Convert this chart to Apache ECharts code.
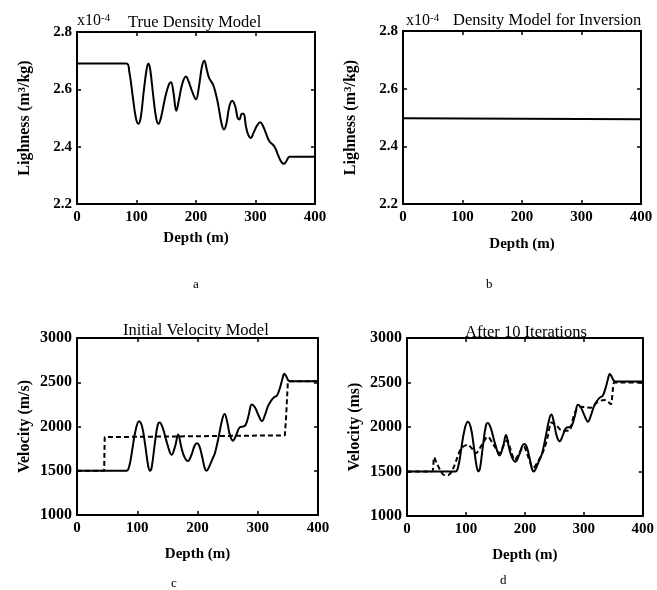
<!DOCTYPE html>
<html>
<head>
<meta charset="utf-8">
<script src="https://cdn.jsdelivr.net/npm/echarts@6/dist/echarts.min.js"></script>
<style>
html,body{margin:0;padding:0;background:#fff;}
#main{width:657px;height:590px;}
</style>
</head>
<body>
<div id="main"></div>
<script>
// a: true density model
var densityDepth = [0, 83, 88, 94, 99, 103, 107, 112, 117, 120, 123, 128, 133, 137, 141, 148, 154, 158, 162, 167, 171, 177, 183, 188, 194, 200, 205, 210, 214, 218, 222, 229, 236, 243, 247, 251, 256, 261, 266, 270, 273, 277, 280, 284, 288, 292, 297, 303, 308, 312, 317, 323, 332, 338, 344, 348, 352, 357, 362, 400];
var densityTrue  = [2.69, 2.69, 2.66, 2.57, 2.50, 2.48, 2.50, 2.59, 2.67, 2.69, 2.67, 2.58, 2.50, 2.48, 2.50, 2.57, 2.615, 2.625, 2.59, 2.525, 2.56, 2.62, 2.645, 2.625, 2.59, 2.565, 2.61, 2.68, 2.70, 2.67, 2.64, 2.615, 2.56, 2.48, 2.46, 2.48, 2.54, 2.56, 2.54, 2.50, 2.495, 2.515, 2.515, 2.47, 2.44, 2.43, 2.45, 2.475, 2.485, 2.475, 2.45, 2.42, 2.40, 2.37, 2.345, 2.34, 2.35, 2.365, 2.365, 2.365];
// b: density model for inversion
var densityInvDepth = [0, 400];
var densityInv      = [2.497, 2.494];
// c, d: true velocity (solid)
var velDepth = [0, 82, 87, 92, 97, 103, 108, 113, 118, 121, 124, 129, 134, 137, 142, 150, 157, 163, 168, 173, 178, 184, 190, 195, 199, 203, 208, 212, 215, 219, 224, 229, 235, 241, 245, 249, 254, 259, 264, 270, 276, 280, 285, 290, 295, 301, 307, 312, 317, 322, 327, 332, 337, 341, 344, 347, 351, 355, 400];
var velTrue  = [1500, 1500, 1560, 1750, 1950, 2060, 2000, 1800, 1560, 1500, 1540, 1800, 2020, 2045, 1990, 1800, 1680, 1780, 1910, 1770, 1660, 1610, 1680, 1780, 1810, 1780, 1650, 1530, 1500, 1540, 1620, 1700, 1880, 2080, 2140, 2060, 1900, 1840, 1900, 1990, 2000, 2020, 2130, 2250, 2220, 2130, 2060, 2130, 2230, 2290, 2330, 2350, 2440, 2540, 2595, 2570, 2520, 2510, 2510];
// c: initial velocity model (dashed)
var initDepth = [0, 45, 46, 49, 345, 347, 350, 400];
var velInit   = [1500, 1500, 1880, 1900, 1900, 2100, 2510, 2510];
// d: after 10 iterations (dashed)
var iterDepth = [0, 42, 46, 50, 56, 63, 70, 78, 85, 92, 103, 110, 117, 127, 137, 147, 157, 163, 170, 176, 183, 190, 198, 206, 214, 222, 232, 239, 245, 253, 264, 276, 281, 287, 295, 303, 312, 318, 324, 335, 342, 346, 349, 352, 400];
var velIter   = [1500, 1500, 1660, 1600, 1520, 1460, 1460, 1530, 1650, 1760, 1800, 1760, 1705, 1800, 1890, 1800, 1705, 1780, 1850, 1740, 1630, 1700, 1780, 1660, 1540, 1610, 1740, 1900, 2050, 2020, 1955, 1965, 2080, 2190, 2228, 2220, 2217, 2250, 2284, 2303, 2280, 2255, 2400, 2500, 2500];

var depthTicks = [0, 100, 200, 300, 400];
var lightTicks = [2.2, 2.4, 2.6, 2.8];
var velTicks   = [1000, 1500, 2000, 2500, 3000];

var FONT = 'Liberation Serif';

function zip(xs, ys){
    return xs.map(function(x, i){ return [x, ys[i]]; });
}

// grid boxes, one per panel
var grids = [
    {left: 77,  top: 32,  width: 238, height: 172},
    {left: 403, top: 31,  width: 238, height: 173},
    {left: 77,  top: 338, width: 241, height: 177},
    {left: 407, top: 338, width: 236, height: 178}
];
var yNames = ['Lighness (m{sup|3}/kg)', 'Lighness (m{sup|3}/kg)', 'Velocity (m/s)', 'Velocity (ms)'];
var yTickSets = [lightTicks, lightTicks, velTicks, velTicks];
var yLabelSize = [15, 15, 16, 16];
var xNameGaps = [27, 33, 32, 32];

var lineStyleAxis = {color: '#000', width: 2};
var tickStyle = {show: true, inside: true, length: 4, lineStyle: {color: '#000', width: 1.5}};

var xAxes = [], yAxes = [];
grids.forEach(function(g, i){
    var yt = yTickSets[i];
    var xBase = {
        gridIndex: i, type: 'value',
        min: depthTicks[0], max: depthTicks[depthTicks.length - 1],
        interval: depthTicks[1] - depthTicks[0],
        axisLine: {show: true, onZero: false, lineStyle: lineStyleAxis},
        axisTick: tickStyle, splitLine: {show: false}
    };
    xAxes.push(Object.assign({}, xBase, {
        position: 'bottom',
        name: 'Depth (m)', nameLocation: 'middle', nameGap: xNameGaps[i],
        nameTextStyle: {fontFamily: FONT, fontWeight: 'bold', fontSize: 15, color: '#000'},
        axisLabel: {fontFamily: FONT, fontWeight: 'bold', fontSize: 15, color: '#000', margin: 6}
    }));
    xAxes.push(Object.assign({}, xBase, {position: 'top', axisLabel: {show: false}}));

    var yBase = {
        gridIndex: i, type: 'value',
        min: yt[0], max: yt[yt.length - 1],
        interval: yt[1] - yt[0],
        axisLine: {show: true, onZero: false, lineStyle: lineStyleAxis},
        axisTick: tickStyle, splitLine: {show: false}
    };
    yAxes.push(Object.assign({}, yBase, {
        position: 'left',
        name: yNames[i], nameLocation: 'middle', nameGap: 44, nameRotate: 90,
        nameTextStyle: {
            fontFamily: FONT, fontWeight: 'bold', fontSize: 16, color: '#000',
            rich: {sup: {fontFamily: FONT, fontWeight: 'bold', fontSize: 11, color: '#000', verticalAlign: 'top'}}
        },
        axisLabel: {
            fontFamily: FONT, fontWeight: 'bold', fontSize: yLabelSize[i], color: '#000', margin: 5,
            formatter: function(v){ return i < 2 ? v.toFixed(1) : String(Math.round(v)); }
        }
    }));
    yAxes.push(Object.assign({}, yBase, {position: 'right', axisLabel: {show: false}}));
});

function curve(i, data, dashed, smooth){
    return {
        type: 'line', xAxisIndex: 2 * i, yAxisIndex: 2 * i,
        data: data, showSymbol: false, symbol: 'none',
        smooth: smooth,
        lineStyle: {color: '#000', width: 2, type: dashed ? [5, 3] : 'solid'},
        animation: false, silent: true
    };
}

var titleStyle = {fontFamily: FONT, fontSize: 16.5, color: '#000', fontWeight: 'normal'};
var expStyle = {
    fontFamily: FONT, fontSize: 16, color: '#000', fontWeight: 'normal',
    rich: {
        base: {fontFamily: FONT, fontSize: 16, color: '#000'},
        exp: {fontFamily: FONT, fontSize: 11, color: '#000', verticalAlign: 'top'}
    }
};
var letterStyle = {fontFamily: FONT, fontSize: 13, color: '#000', fontWeight: 'normal'};

function label(text, left, cy, style){
    return {text: text, left: left, top: cy - style.fontSize / 2, padding: 0, itemGap: 0, textStyle: style};
}

var option = {
    backgroundColor: '#fff',
    animation: false,
    title: [
        label('{base|x10}{exp|-4}', 77, 21, expStyle),
        label('True Density Model', 128, 22, titleStyle),
        label('{base|x10}{exp|-4}', 406, 21, expStyle),
        label('Density Model for Inversion', 453, 20, titleStyle),
        label('Initial Velocity Model', 123, 330, titleStyle),
        label('After 10 Iterations', 465, 332, titleStyle),
        label('a', 193, 285, letterStyle),
        label('b', 486, 285, letterStyle),
        label('c', 171, 584, letterStyle),
        label('d', 500, 581, letterStyle)
    ],
    grid: grids,
    xAxis: xAxes,
    yAxis: yAxes,
    series: [
        curve(0, zip(densityDepth, densityTrue), false, 0.4),
        curve(1, zip(densityInvDepth, densityInv), false, false),
        curve(2, zip(initDepth, velInit), true, false),
        curve(2, zip(velDepth, velTrue), false, 0.4),
        curve(3, zip(iterDepth, velIter), true, 0.3),
        curve(3, zip(velDepth, velTrue), false, 0.4)
    ]
};

var chart = echarts.init(document.getElementById('main'));
chart.setOption(option);
</script>
</body>
</html>
